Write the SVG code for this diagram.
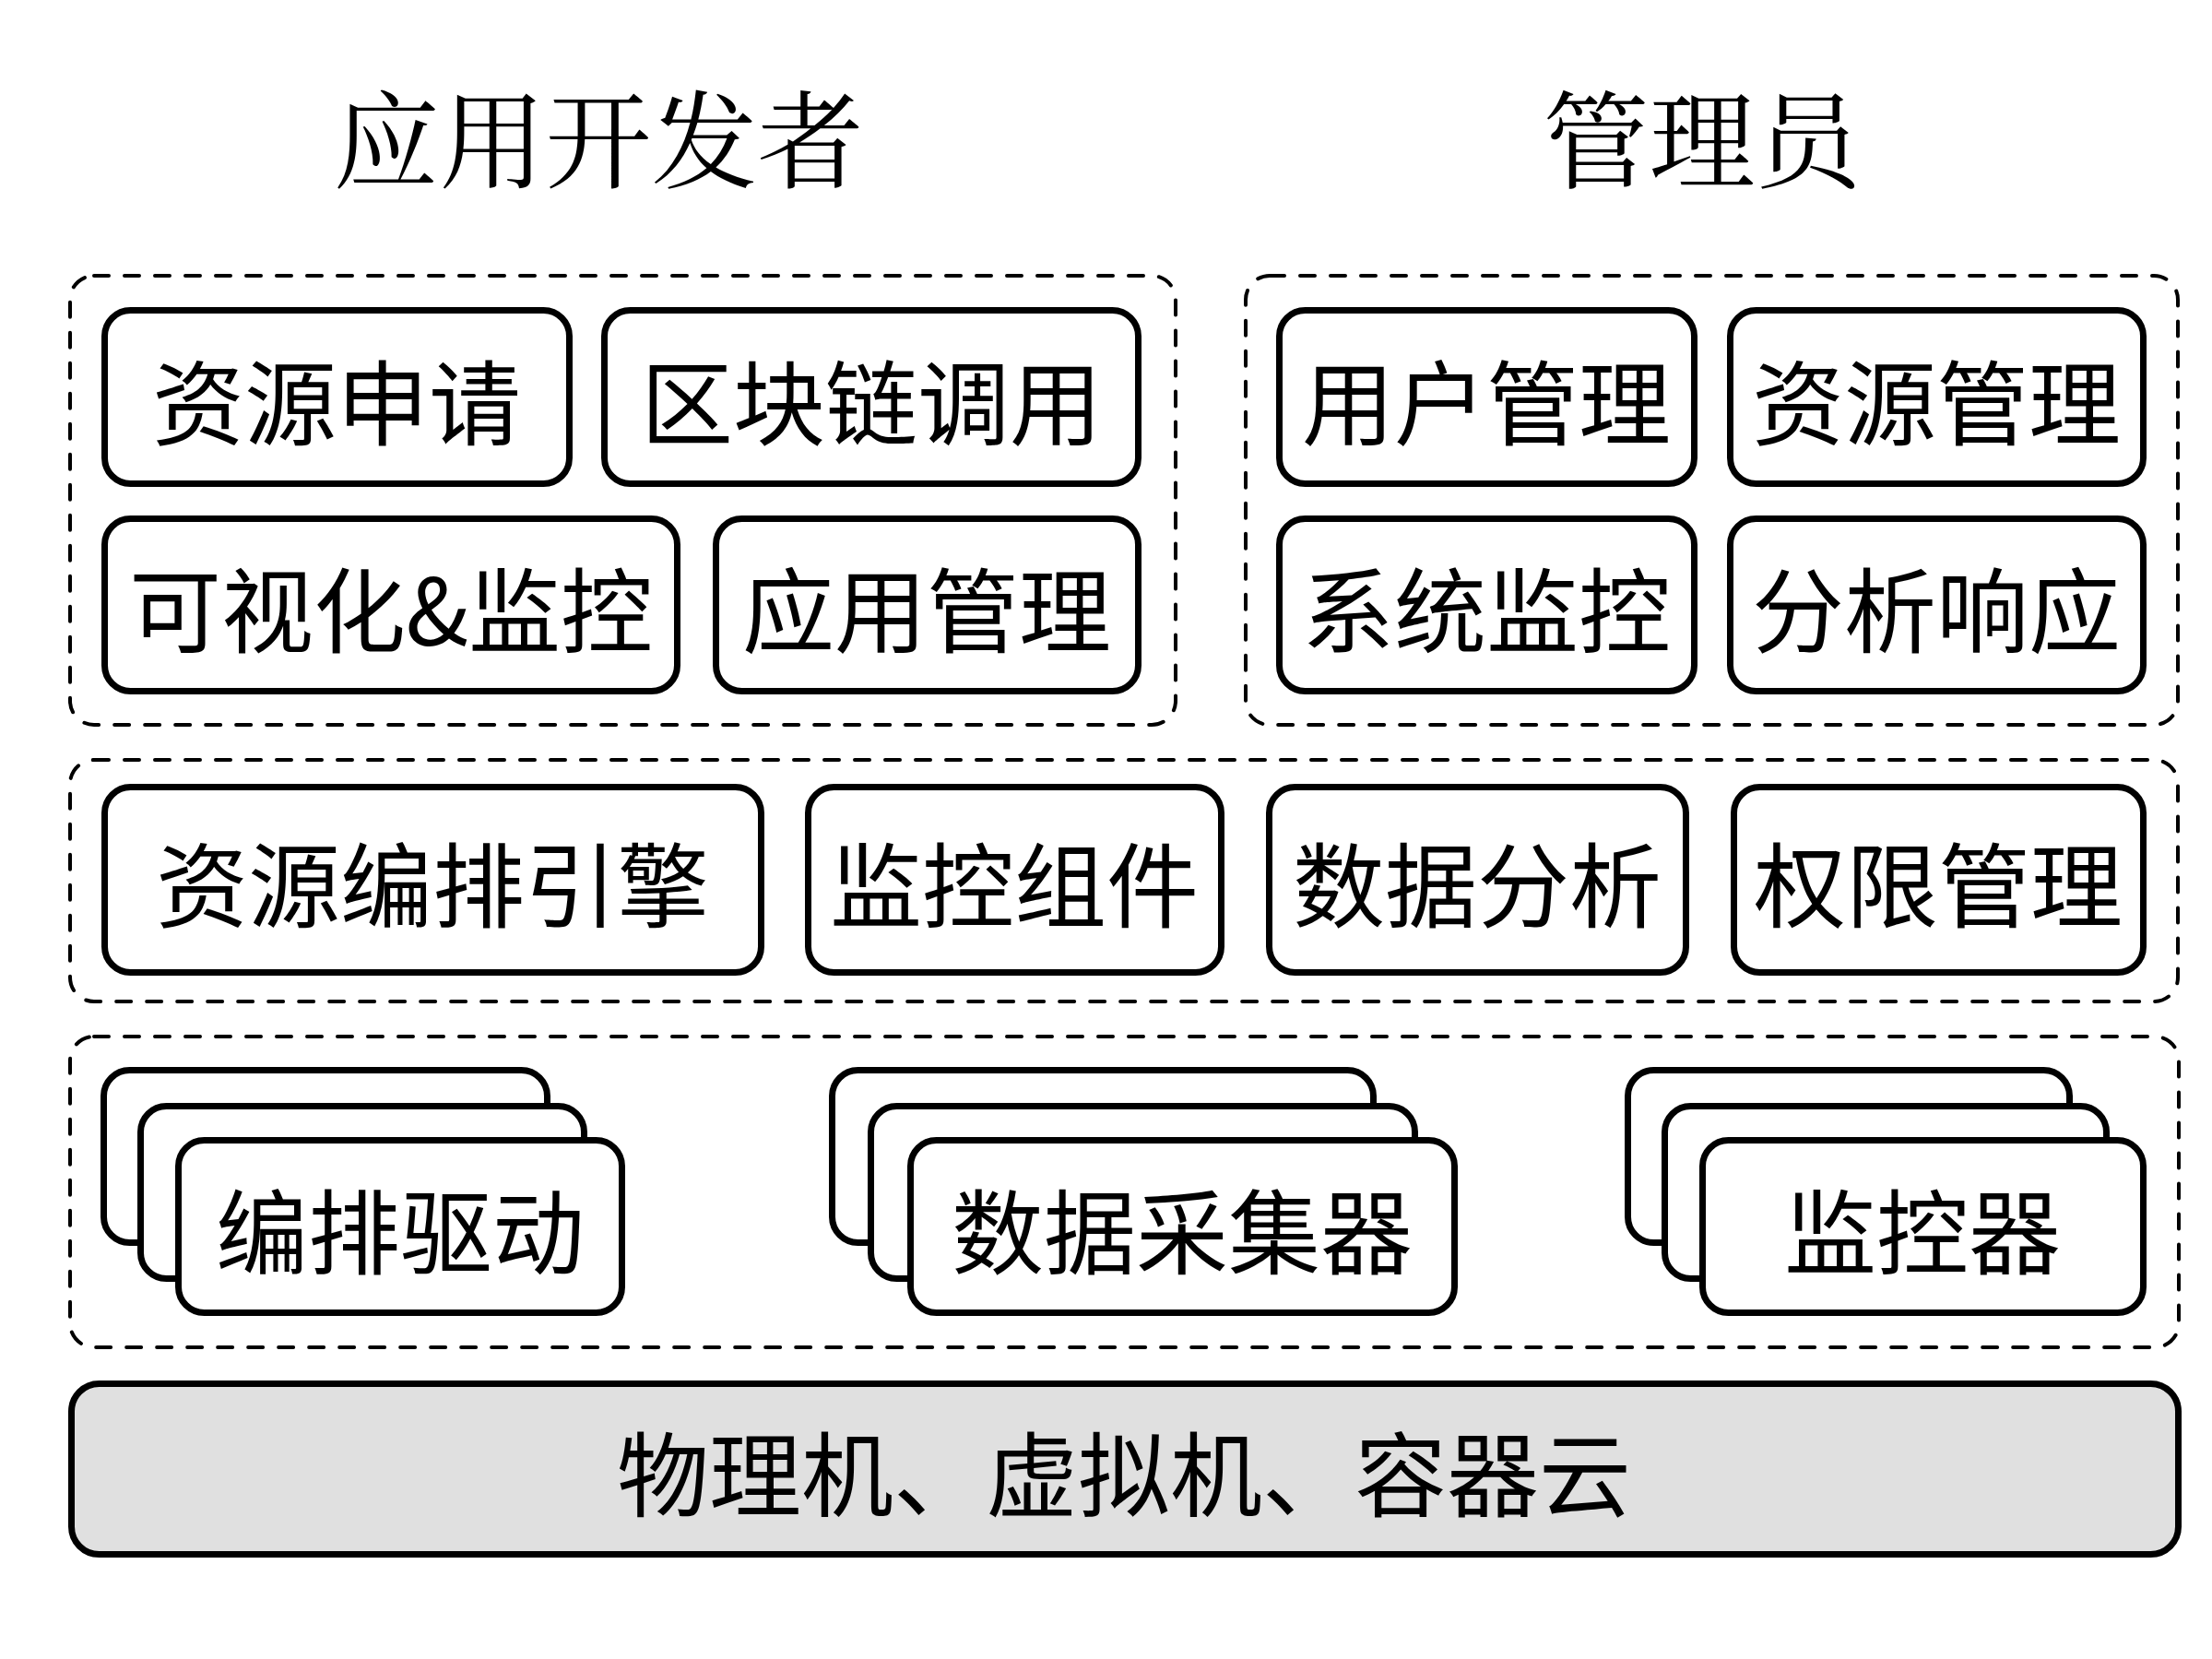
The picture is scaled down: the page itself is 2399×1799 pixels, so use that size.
<svg xmlns="http://www.w3.org/2000/svg" width="2399" height="1799" viewBox="0 0 2399 1799">
<style>
.bg{fill:#ffffff}
.grp{fill:none;stroke:#000;stroke-width:4;stroke-dasharray:16 17;stroke-linecap:round}
.box{fill:#fff;stroke:#000;stroke-width:7}
.base{fill:#e0e0e0;stroke:#000;stroke-width:7}
.t{font-family:"Noto Sans CJK SC","Noto Sans",sans-serif;font-size:100px;fill:#000;text-anchor:middle;dominant-baseline:central}
.title{font-family:"Noto Serif CJK SC","Noto Sans CJK SC",serif;font-size:115px;fill:#000;text-anchor:middle;dominant-baseline:central}
</style>
<rect class="bg" x="0" y="0" width="2399" height="1799"/>
<g id="titles">
<text class="title" x="649" y="145">应用开发者</text>
<text class="title" x="1846" y="145">管理员</text>
</g>
<g id="groups">
<rect class="grp" x="76" y="299" width="1199" height="487" rx="26"/>
<rect class="grp" x="1351" y="299" width="1011" height="487" rx="26"/>
<rect class="grp" x="76" y="824" width="2286" height="262" rx="26"/>
<rect class="grp" x="76" y="1124" width="2287" height="337" rx="26"/>
</g>
<g id="n1"><rect class="box" x="113.5" y="336.5" width="504" height="188" rx="28"/><text class="t" x="365" y="431">资源申请</text></g>
<g id="n2"><rect class="box" x="655.5" y="336.5" width="579" height="188" rx="28"/><text class="t" x="945" y="431">区块链调用</text></g>
<g id="n3"><rect class="box" x="113.5" y="562.5" width="621" height="187" rx="28"/><text class="t" x="424" y="656">可视化&amp;监控</text></g>
<g id="n4"><rect class="box" x="776.5" y="562.5" width="458" height="187" rx="28"/><text class="t" x="1005" y="656">应用管理</text></g>
<g id="n5"><rect class="box" x="1387.5" y="336.5" width="450" height="188" rx="28"/><text class="t" x="1612" y="431">用户管理</text></g>
<g id="n6"><rect class="box" x="1876.5" y="336.5" width="448" height="188" rx="28"/><text class="t" x="2100" y="431">资源管理</text></g>
<g id="n7"><rect class="box" x="1387.5" y="562.5" width="450" height="187" rx="28"/><text class="t" x="1612" y="656">系统监控</text></g>
<g id="n8"><rect class="box" x="1876.5" y="562.5" width="448" height="187" rx="28"/><text class="t" x="2100" y="656">分析响应</text></g>
<g id="n9"><rect class="box" x="113.5" y="853.5" width="712" height="201" rx="28"/><text class="t" x="469" y="954">资源编排引擎</text></g>
<g id="n10"><rect class="box" x="876.5" y="853.5" width="448" height="201" rx="28"/><text class="t" x="1100" y="954">监控组件</text></g>
<g id="n11"><rect class="box" x="1376.5" y="853.5" width="452" height="201" rx="28"/><text class="t" x="1602" y="954">数据分析</text></g>
<g id="n12"><rect class="box" x="1880.5" y="853.5" width="444" height="201" rx="28"/><text class="t" x="2102" y="954">权限管理</text></g>
<g id="n13">
<rect class="box" x="112.5" y="1160.5" width="481" height="187" rx="28"/>
<rect class="box" x="152.5" y="1199.5" width="481" height="187" rx="28"/>
<rect class="box" x="193.5" y="1236.5" width="481" height="187" rx="28"/>
<text class="t" x="434" y="1330">编排驱动</text>
</g>
<g id="n14">
<rect class="box" x="902.5" y="1160.5" width="587" height="187" rx="28"/>
<rect class="box" x="944.5" y="1199.5" width="590" height="187" rx="28"/>
<rect class="box" x="987.5" y="1236.5" width="590" height="187" rx="28"/>
<text class="t" x="1282" y="1330">数据采集器</text>
</g>
<g id="n15">
<rect class="box" x="1765.5" y="1160.5" width="479" height="187" rx="28"/>
<rect class="box" x="1805.5" y="1199.5" width="479" height="187" rx="28"/>
<rect class="box" x="1846.5" y="1236.5" width="478" height="187" rx="28"/>
<text class="t" x="2085" y="1330">监控器</text>
</g>
<g id="n16"><rect class="base" x="77.5" y="1500.5" width="2285" height="185" rx="30"/><text class="t" x="1219" y="1593">物理机、虚拟机、容器云</text></g>
<g id="connectors"></g>
</svg>
